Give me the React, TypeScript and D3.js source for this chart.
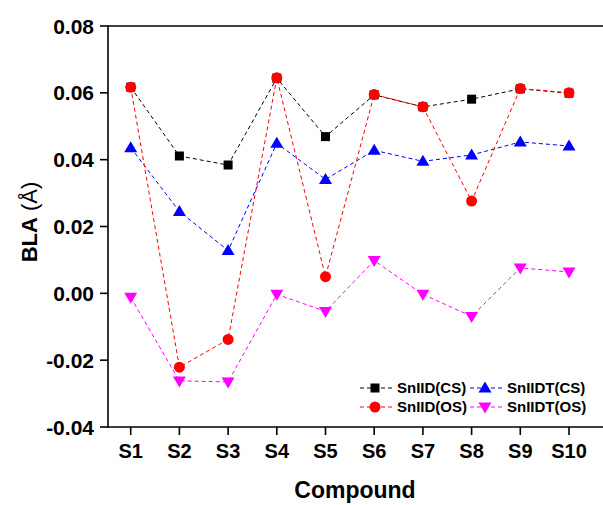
import React from "react";
import * as d3 from "d3";

const categories = ["S1", "S2", "S3", "S4", "S5", "S6", "S7", "S8", "S9", "S10"];
const sniidCS = [0.0617, 0.0411, 0.0384, 0.0644, 0.0469, 0.0594, 0.0558, 0.0581, 0.0612, 0.0599];
const sniidtCS = [0.0436, 0.0245, 0.0128, 0.0449, 0.0341, 0.0428, 0.0395, 0.0414, 0.0453, 0.0441];
const sniidOS = [0.0617, -0.0221, -0.0138, 0.0645, 0.0050, 0.0595, 0.0558, 0.0276, 0.0613, 0.0600];
const sniidtOS = [-0.0012, -0.0262, -0.0265, -0.0003, -0.0054, 0.0098, -0.0003, -0.0069, 0.0076, 0.0064];
const yTicks = [-0.04, -0.02, 0.0, 0.02, 0.04, 0.06, 0.08];

const series = [
  { name: "SnIID(CS)", values: sniidCS, color: "#000000", marker: "square" },
  { name: "SnIIDT(CS)", values: sniidtCS, color: "#0000ff", marker: "triangle" },
  { name: "SnIID(OS)", values: sniidOS, color: "#ff0000", marker: "circle" },
  { name: "SnIIDT(OS)", values: sniidtOS, color: "#ff00ff", marker: "triangleDown" },
];
const drawOrder = [0, 1, 3, 2];

const W = 603, H = 505;
const left = 108, top = 26, bottom = 427, right = 603;

function Marker({ type, x, y, color }: { type: string; x: number; y: number; color: string }) {
  if (type === "square") return <rect x={x - 4.5} y={y - 4.5} width={9} height={9} fill={color} />;
  if (type === "circle") return <circle cx={x} cy={y} r={5.5} fill={color} />;
  if (type === "triangle")
    return <path d={`M${x},${y - 6.5}L${x + 6.5},${y + 4.5}L${x - 6.5},${y + 4.5}Z`} fill={color} />;
  return <path d={`M${x},${y + 6.5}L${x + 6.5},${y - 4.5}L${x - 6.5},${y - 4.5}Z`} fill={color} />;
}

export default function App() {
  const x = d3.scalePoint<string>().domain(categories).range([130.7, 569]).padding(0);
  const y = d3.scaleLinear().domain([-0.04, 0.08]).range([bottom, top]);
  const line = (vals: number[]) =>
    d3.line<number>().x((_, i) => x(categories[i]) as number).y((v) => y(v))(vals) as string;
  const font = "'Liberation Sans', Arial, sans-serif";
  const legendItems = [
    { s: series[0], lx: 360, ly: 388 },
    { s: series[1], lx: 470, ly: 388 },
    { s: series[2], lx: 360, ly: 407 },
    { s: series[3], lx: 470, ly: 407 },
  ];
  return (
    <svg width={W} height={H} style={{ position: "absolute", left: 0, top: 0, background: "#fff" }} fontFamily={font}>
      <rect width={W} height={H} fill="#fff" />
      {drawOrder.map((k) => {
        const s = series[k];
        return (
          <g key={s.name}>
            <path d={line(s.values)} fill="none" stroke={s.color} strokeWidth={1} strokeDasharray="4,3" />
            {s.values.map((v, i) => (
              <Marker key={i} type={s.marker} x={x(categories[i]) as number} y={y(v)} color={s.color} />
            ))}
          </g>
        );
      })}
      {/* axes */}
      <line x1={left} x2={right} y1={top} y2={top} stroke="#000" strokeWidth={1.6} />
      <line x1={left} x2={right} y1={bottom} y2={bottom} stroke="#000" strokeWidth={1.6} />
      <line x1={left} x2={left} y1={top - 0.8} y2={bottom + 0.8} stroke="#000" strokeWidth={1.6} />
      {yTicks.map((t) => (
        <g key={t}>
          <line x1={left - 8} x2={left} y1={y(t)} y2={y(t)} stroke="#000" strokeWidth={1.6} />
          <text x={94} y={y(t)} dy="0.36em" textAnchor="end" fontSize={21} fontWeight="bold">
            {t.toFixed(2)}
          </text>
        </g>
      ))}
      {categories.map((c) => (
        <g key={c}>
          <line x1={x(c)} x2={x(c)} y1={bottom} y2={bottom + 8} stroke="#000" strokeWidth={1.6} />
          <text x={x(c)} y={458} textAnchor="middle" fontSize={20} fontWeight="bold">
            {c}
          </text>
        </g>
      ))}
      <text x={355} y={498} textAnchor="middle" fontSize={23} fontWeight="bold">
        Compound
      </text>
      <text transform="translate(37,222) rotate(-90)" textAnchor="middle" fontSize={22}>
        <tspan fontWeight="bold">BLA</tspan>
        <tspan> (Å)</tspan>
      </text>
      {legendItems.map(({ s, lx, ly }) => (
        <g key={s.name}>
          <line x1={lx} x2={lx + 34} y1={ly} y2={ly} stroke={s.color} strokeWidth={1} strokeDasharray="4,3" />
          <Marker type={s.marker} x={lx + 15} y={ly} color={s.color} />
          <text x={lx + 37} y={ly} dy="0.36em" fontSize={15} fontWeight="bold">
            {s.name}
          </text>
        </g>
      ))}
    </svg>
  );
}
